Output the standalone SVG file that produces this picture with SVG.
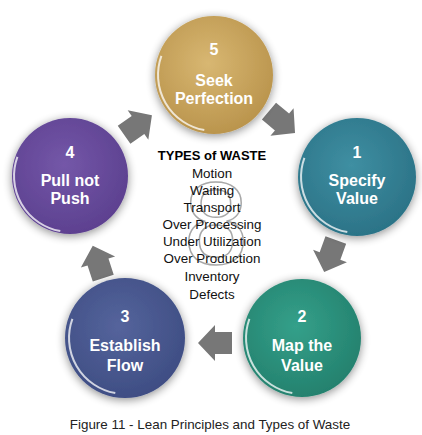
<svg xmlns="http://www.w3.org/2000/svg" width="422" height="435" viewBox="0 0 422 435">
<defs>
<style>
.lbl{font-family:"Liberation Sans",Arial,sans-serif;font-weight:bold;font-size:16px;fill:#fff;text-anchor:middle}
.waste{font-family:"Liberation Sans",Arial,sans-serif;font-size:13.4px;fill:#111;text-anchor:middle}
.title{font-family:"Liberation Sans",Arial,sans-serif;font-size:13px;font-weight:bold;fill:#000;text-anchor:middle}
.cap{font-family:"Liberation Sans",Arial,sans-serif;font-size:13.4px;fill:#222;text-anchor:middle}
.rim{fill:none;stroke:#fff;stroke-opacity:0.75;stroke-width:2}
.arrow{fill:#777}
</style>
<filter id="sh" x="-30%" y="-30%" width="160%" height="160%">
<feGaussianBlur in="SourceAlpha" stdDeviation="5"/>
<feOffset dx="0" dy="2" result="b"/>
<feComponentTransfer><feFuncA type="linear" slope="0.45"/></feComponentTransfer>
<feMerge><feMergeNode/><feMergeNode in="SourceGraphic"/></feMerge>
</filter>
<radialGradient id="g5" cx="45%" cy="40%" r="65%"><stop offset="0" stop-color="#d8b772"/><stop offset="1" stop-color="#b8924a"/></radialGradient>
<radialGradient id="g1" cx="45%" cy="40%" r="65%"><stop offset="0" stop-color="#3f8fa2"/><stop offset="1" stop-color="#2a7185"/></radialGradient>
<radialGradient id="g2" cx="45%" cy="40%" r="65%"><stop offset="0" stop-color="#34a08a"/><stop offset="1" stop-color="#237f6c"/></radialGradient>
<radialGradient id="g3" cx="45%" cy="40%" r="65%"><stop offset="0" stop-color="#55649c"/><stop offset="1" stop-color="#3d4c82"/></radialGradient>
<radialGradient id="g4" cx="45%" cy="40%" r="65%"><stop offset="0" stop-color="#7457a8"/><stop offset="1" stop-color="#5b3f8e"/></radialGradient>
<path id="arr" d="M -17,-11 L 0,-11 L 0,-18 L 17,0 L 0,18 L 0,11 L -17,11 Z"/>
</defs>
<rect width="422" height="435" fill="#fff"/>

<g id="connectors">
<use href="#arr" class="arrow" transform="translate(282,122) rotate(40)"/>
<use href="#arr" class="arrow" transform="translate(330,256) rotate(110)"/>
<use href="#arr" class="arrow" transform="translate(215,343) rotate(180)"/>
<use href="#arr" class="arrow" transform="translate(98,262) rotate(252)"/>
<use href="#arr" class="arrow" transform="translate(138,125) rotate(-35)"/>
</g>

<g id="center">
<text x="216" y="264" font-family="Liberation Sans,Arial,sans-serif" font-size="116" fill="none" stroke="#a8a8a8" stroke-width="1.5" text-anchor="middle">8</text>
<text class="title" x="212" y="160">TYPES of WASTE</text>
<text class="waste" x="212" y="178">Motion</text>
<text class="waste" x="212" y="195">Waiting</text>
<text class="waste" x="212" y="212">Transport</text>
<text class="waste" x="212" y="229">Over Processing</text>
<text class="waste" x="212" y="246">Under Utilization</text>
<text class="waste" x="212" y="263">Over Production</text>
<text class="waste" x="212" y="281">Inventory</text>
<text class="waste" x="212" y="299">Defects</text>
</g>

<g id="node5" transform="translate(214,75)">
<circle r="59" fill="url(#g5)" filter="url(#sh)"/>
<path class="rim" d="M -9.7 55.1 A 56 56 0 0 1 -52.6 -19.2"/>
<text class="lbl" y="-20">5</text>
<text class="lbl" y="11">Seek</text>
<text class="lbl" y="29">Perfection</text>
</g>

<g id="node1" transform="translate(357,177)">
<circle r="59" fill="url(#g1)" filter="url(#sh)"/>
<path class="rim" d="M -9.7 55.1 A 56 56 0 0 1 -52.6 -19.2"/>
<text class="lbl" y="-19">1</text>
<text class="lbl" y="9">Specify</text>
<text class="lbl" y="27">Value</text>
</g>

<g id="node2" transform="translate(302,338)">
<circle r="59" fill="url(#g2)" filter="url(#sh)"/>
<path class="rim" d="M -9.7 55.1 A 56 56 0 0 1 -52.6 -19.2"/>
<text class="lbl" y="-16">2</text>
<text class="lbl" y="13">Map the</text>
<text class="lbl" y="33">Value</text>
</g>

<g id="node3" transform="translate(125,338)">
<circle r="60" fill="url(#g3)" filter="url(#sh)"/>
<path class="rim" d="M -9.7 55.1 A 56 56 0 0 1 -52.6 -19.2"/>
<text class="lbl" y="-16">3</text>
<text class="lbl" y="13">Establish</text>
<text class="lbl" y="33">Flow</text>
</g>

<g id="node4" transform="translate(70,176)">
<circle r="58" fill="url(#g4)" filter="url(#sh)"/>
<path class="rim" d="M -9.7 55.1 A 56 56 0 0 1 -52.6 -19.2"/>
<text class="lbl" y="-18">4</text>
<text class="lbl" y="10">Pull not</text>
<text class="lbl" y="28">Push</text>
</g>

<text class="cap" x="210" y="429">Figure 11 - Lean Principles and Types of Waste</text>
</svg>
